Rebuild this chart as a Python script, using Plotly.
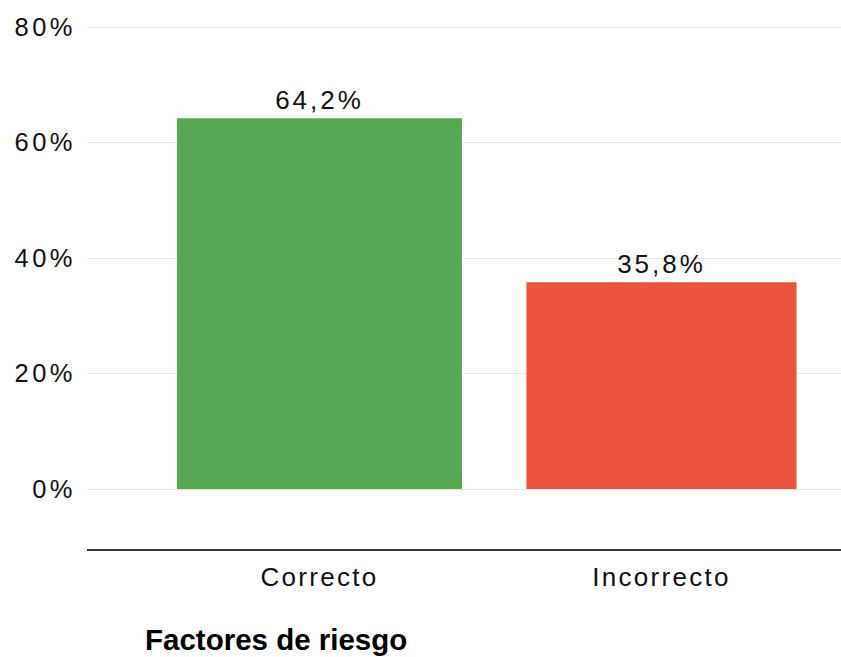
import plotly.graph_objects as go

# Data
categories = ["Correcto", "Incorrecto"]
values = [64.2, 35.8]
value_labels = ["64,2%", "35,8%"]
bar_colors = ["#57A853", "#EC533F"]
tick_values = [0, 20, 40, 60, 80]
tick_labels = ["0%", "20%", "40%", "60%", "80%"]


def spaced(s, px):
    return f"<span style='letter-spacing:{px}px'>{s}</span>"


FONT = "Liberation Sans, Arial, Helvetica, sans-serif"

fig = go.Figure(
    go.Bar(
        x=categories,
        y=values,
        width=[0.833, 0.79],
        marker=dict(color=bar_colors, line=dict(width=0)),
        text=[spaced(t, 3) for t in value_labels],
        textposition="outside",
        textfont=dict(family=FONT, size=26, color="#111111"),
        cliponaxis=False,
        hoverinfo="skip",
    )
)

fig.update_layout(
    width=841,
    height=657,
    margin=dict(l=87, r=0, t=0, b=108),
    paper_bgcolor="white",
    plot_bgcolor="white",
    showlegend=False,
    title=dict(
        text="<b>Factores de riesgo</b>",
        font=dict(family=FONT, size=29.5, color="#000000"),
        x=145 / 841,
        xanchor="left",
        xref="container",
        y=1 - 640 / 657,
        yanchor="middle",
        yref="container",
    ),
)

fig.update_xaxes(
    type="category",
    range=[-0.6798, 1.5249],
    showgrid=False,
    zeroline=False,
    showline=True,
    linecolor="#333333",
    linewidth=2,
    ticks="",
    tickvals=categories,
    ticktext=[spaced(c, 2.3) for c in categories],
    tickfont=dict(family=FONT, size=26, color="#111111"),
    ticklabelstandoff=4,
)

fig.update_yaxes(
    range=[-10.39, 84.68],
    tickvals=tick_values,
    ticktext=[spaced(t, 3.5) for t in tick_labels],
    tickfont=dict(family=FONT, size=25.5, color="#111111"),
    showgrid=True,
    gridcolor="#E6E6E6",
    gridwidth=1,
    zeroline=False,
    showline=False,
    ticks="",
    ticklabelstandoff=10,
)

fig.write_html("out.html")
